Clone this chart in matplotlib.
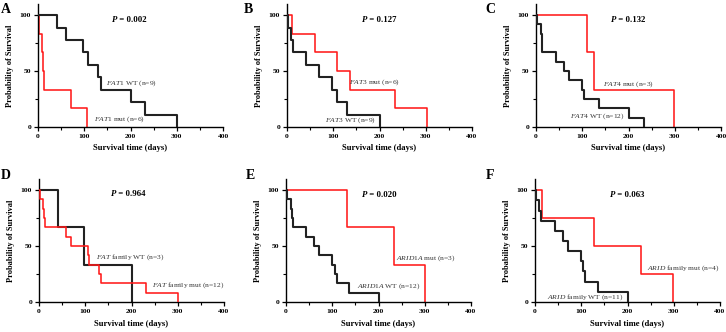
import matplotlib
matplotlib.use("Agg")
import matplotlib.pyplot as plt
from matplotlib.ticker import MultipleLocator

plt.rcParams['font.family'] = ['Liberation Serif', 'DejaVu Serif']
plt.rcParams['mathtext.fontset'] = 'custom'
plt.rcParams['mathtext.rm'] = 'Liberation Serif'
plt.rcParams['mathtext.it'] = 'Liberation Serif:italic'
plt.rcParams['mathtext.bf'] = 'Liberation Serif:bold'

# ---------------- data (time in days, survival in %) ----------------
A_wt_t = [0, 41, 60, 98, 108, 130, 136, 201, 231, 300]
A_wt_s = [100, 88.9, 77.8, 66.7, 55.6, 44.4, 33.3, 22.2, 11.1, 0]
A_mut_t = [0, 2, 9, 11.5, 14, 72, 106]
A_mut_s = [100, 83.3, 66.7, 50, 33.3, 16.7, 0]

B_mut_t = [0, 10, 60, 109, 136, 233, 302]
B_mut_s = [100, 83.3, 66.7, 50, 33.3, 16.7, 0]
B_wt_t = [0, 2, 9, 13, 42, 70, 98, 109, 129, 201]
B_wt_s = [100, 88.9, 77.8, 66.7, 55.6, 44.4, 33.3, 22.2, 11.1, 0]

C_mut_t = [0, 109.5, 126, 299]
C_mut_s = [100, 66.7, 33.3, 0]
C_wt_t = [0, 2, 11, 12.5, 14, 43, 60, 72, 99, 104.5, 137, 200, 233]
C_wt_s = [100, 91.7, 83.3, 75, 66.7, 58.3, 50, 41.7, 33.3, 25, 16.7, 8.3, 0]

D_wt_t = [0, 42, 96.5, 202]
D_wt_s = [100, 66.7, 33.3, 0]
D_mut_t = [0, 2, 9.4, 11.6, 13, 59, 70, 105, 107.5, 129, 135, 232, 300]
D_mut_s = [100, 91.7, 83.3, 75, 66.7, 58.3, 50, 41.7, 33.3, 25, 16.7, 8.3, 0]

E_mut_t = [0, 131.6, 234, 301.6]
E_mut_s = [100, 66.7, 33.3, 0]
E_wt_t = [0, 2, 10, 12, 14.5, 43, 61, 72, 99, 106, 110, 137, 202]
E_wt_s = [100, 91.7, 83.3, 75, 66.7, 58.3, 50, 41.7, 33.3, 25, 16.7, 8.3, 0]

F_mut_t = [0, 16, 127.5, 230, 299]
F_mut_s = [100, 75, 50, 25, 0]
F_wt_t = [0, 2, 9, 14, 43, 60.5, 72, 99, 104.5, 108, 137, 201]
F_wt_s = [100, 90.9, 81.8, 72.7, 63.6, 54.5, 45.5, 36.4, 27.3, 18.2, 9.1, 0]

letters = ['A', 'B', 'C', 'D', 'E', 'F']
p_values = ['0.002', '0.127', '0.132', '0.964', '0.020', '0.063']
black_genes = ['FAT1', 'FAT3', 'FAT4', 'FAT', 'ARID1A', 'ARID']
black_rest = [' WT (n=9)', ' WT (n=9)', ' WT (n=12)', ' family WT (n=3)', ' WT (n=12)', ' family WT (n=11)']
red_genes = ['FAT1', 'FAT3', 'FAT4', 'FAT', 'ARID1A', 'ARID']
red_rest = [' mut (n=6)', ' mut (n=6)', ' mut (n=3)', ' family mut (n=12)', ' mut (n=3)', ' family mut (n=4)']

black_curves = [(A_wt_t, A_wt_s), (B_wt_t, B_wt_s), (C_wt_t, C_wt_s),
                (D_wt_t, D_wt_s), (E_wt_t, E_wt_s), (F_wt_t, F_wt_s)]
red_curves = [(A_mut_t, A_mut_s), (B_mut_t, B_mut_s), (C_mut_t, C_mut_s),
              (D_mut_t, D_mut_s), (E_mut_t, E_mut_s), (F_mut_t, F_mut_s)]

# label anchor positions (data coords, left/center)
black_lab_xy = [(148, 39), (82, 6), (74, 10), (123, 40), (153, 14), (25, 4)]
red_lab_xy = [(121, 7), (133, 40), (144, 38.5), (245, 15), (238, 39), (243, 30)]
p_xy = [(159, 96), (162, 96), (162, 96), (155, 97), (164, 96), (162, 96)]

# ---------------- layout (pixels) ----------------
W, H = 726, 332
fig = plt.figure(figsize=(W / 100, H / 100), dpi=100)
fig.patch.set_facecolor('white')

ax_px = [(38, 127), (287, 127), (536, 127), (39, 302), (286, 302), (535, 302)]
letter_px = [(1, 3), (244, 3), (485, 3), (1, 169), (246, 169), (486, 169)]
ax_w, ax_h = 185, 123

for i in range(6):
    x0, y0 = ax_px[i]
    ax = fig.add_axes([x0 / W, (H - y0) / H, ax_w / W, ax_h / H])
    bt, bs = black_curves[i]
    rt, rs = red_curves[i]
    if i == 3:
        ax.step(bt, bs, where='post', color='#222222', lw=1.5, zorder=2)
        ax.step(rt, rs, where='post', color='#ff1a1a', lw=1.15, zorder=3)
    else:
        ax.step(rt, rs, where='post', color='#ff1a1a', lw=1.15, zorder=2)
        ax.step(bt, bs, where='post', color='#222222', lw=1.5, zorder=3)
    ax.set_xlim(0, 400)
    ax.set_ylim(0, 110)
    ax.spines['top'].set_visible(False)
    ax.spines['right'].set_visible(False)
    for s in ['left', 'bottom']:
        ax.spines[s].set_linewidth(1.0)
    ax.xaxis.set_major_locator(MultipleLocator(100))
    ax.xaxis.set_minor_locator(MultipleLocator(50))
    ax.yaxis.set_major_locator(MultipleLocator(50))
    ax.yaxis.set_minor_locator(MultipleLocator(25))
    ax.set_yticks([0, 50, 100])
    ax.tick_params(which='major', direction='out', length=3, width=0.9, labelsize=5.4, pad=2)
    ax.tick_params(which='minor', direction='out', length=2, width=0.8)
    for lab in ax.get_xticklabels() + ax.get_yticklabels():
        lab.set_fontweight('bold')
    ax.set_xlabel('Survival time (days)', fontsize=6.2, fontweight='bold', labelpad=4)
    ax.set_ylabel('Probability of Survival', fontsize=6.0, fontweight='bold', labelpad=4)

    # P value
    px, py = p_xy[i]
    t1 = ax.text(px, py, 'P', fontsize=6.3, fontweight='bold', style='italic', va='center', ha='left')
    ax.annotate(' = ' + p_values[i], xy=(1, 0), xycoords=t1, va='bottom', ha='left',
                fontsize=6.3, fontweight='bold')

    # curve labels (italic gene name + regular text)
    for (gx, gy), gene, rest in [(black_lab_xy[i], black_genes[i], black_rest[i]),
                                 (red_lab_xy[i], red_genes[i], red_rest[i])]:
        label = r'$\mathit{' + gene + r'}$' + rest
        ax.text(gx, gy, label, fontsize=5.4, color='#333333', va='center', ha='left')

    lx, ly = letter_px[i]
    fig.text(lx / W, 1 - ly / H, letters[i], fontsize=10, fontweight='bold', va='top', ha='left')

fig.savefig('out.png', dpi=100, facecolor='white')
